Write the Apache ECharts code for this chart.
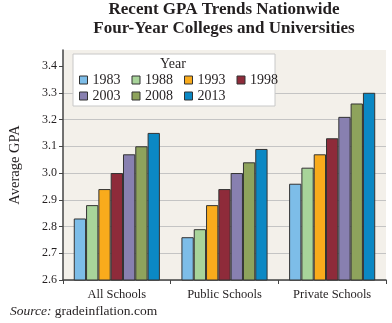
<!DOCTYPE html>
<html><head><meta charset="utf-8">
<script src="https://cdn.jsdelivr.net/npm/echarts@6/dist/echarts.min.js"></script>
<style>html,body{margin:0;padding:0;background:#fff}#c{width:392px;height:323px}</style>
</head><body><div id="c"></div>
<script>
const categories = ['All Schools', 'Public Schools', 'Private Schools'];
const years = ['1983', '1988', '1993', '1998', '2003', '2008', '2013'];
const gpa1983 = [2.83, 2.76, 2.96];
const gpa1988 = [2.88, 2.79, 3.02];
const gpa1993 = [2.94, 2.88, 3.07];
const gpa1998 = [3.00, 2.94, 3.13];
const gpa2003 = [3.07, 3.00, 3.21];
const gpa2008 = [3.10, 3.04, 3.26];
const gpa2013 = [3.15, 3.09, 3.30];
const yTicks = [2.6, 2.7, 2.8, 2.9, 3.0, 3.1, 3.2, 3.3, 3.4];
const colors = ['#7dbde8', '#a8d49a', '#f9ab1c', '#8e2b3a', '#8880b0', '#8ea35c', '#0b88c4'];
const seriesData = [gpa1983, gpa1988, gpa1993, gpa1998, gpa2003, gpa2008, gpa2013];

const serif = '"Liberation Serif", "DejaVu Serif", serif';
const txt = '#231f20';
const chart = echarts.init(document.getElementById('c'));
const legendText = { fontFamily: serif, fontSize: 14, color: txt, lineHeight: 14 };
chart.setOption({
  animation: false,
  textStyle: { fontFamily: serif },
  title: {
    text: 'Recent GPA Trends Nationwide\nFour-Year Colleges and Universities',
    left: 224, textAlign: 'center', top: 0, padding: 0,
    textStyle: { fontFamily: serif, fontSize: 17, fontWeight: 'bold', color: txt, lineHeight: 19 }
  },
  grid: { left: 62, right: 6, top: 50, bottom: 43, show: true, backgroundColor: '#f3f0ea', borderWidth: 0 },
  legend: [
    { data: years.slice(0, 4), left: 79, top: 73, padding: 0, itemGap: 11, itemWidth: 8, itemHeight: 8,
      icon: 'rect', textStyle: legendText, z: 10, itemStyle: { borderColor: '#333', borderWidth: 1 } },
    { data: years.slice(4), left: 79, top: 89, padding: 0, itemGap: 11, itemWidth: 8, itemHeight: 8,
      icon: 'rect', textStyle: legendText, z: 10, itemStyle: { borderColor: '#333', borderWidth: 1 } }
  ],
  graphic: [
    { type: 'rect', shape: { x: 73, y: 54, width: 202, height: 52 }, z: 5,
      style: { fill: '#fff', stroke: '#c8c8c8', lineWidth: 1 } },
    { type: 'text', x: 173, y: 64, z: 6,
      style: { text: 'Year', fontFamily: serif, fontSize: 14, fill: txt, align: 'center', verticalAlign: 'middle' } },
    { type: 'text', x: 10, y: 311, z: 6,
      style: { text: '{i|Source:} gradeinflation.com', fontFamily: serif, fontSize: 13.5, fill: txt, verticalAlign: 'middle',
        rich: { i: { fontStyle: 'italic', fontFamily: serif, fontSize: 13.5, fill: txt } } } }
  ],
  xAxis: {
    type: 'category', data: categories,
    axisLine: { lineStyle: { color: '#444', width: 1.5 } },
    axisTick: { show: true, length: 4, lineStyle: { color: '#444' } },
    axisLabel: { fontFamily: serif, fontSize: 12.5, color: txt, margin: 8 }
  },
  yAxis: {
    type: 'value', min: 2.6, max: 3.46, interval: 0.1,
    name: 'Average GPA', nameLocation: 'middle', nameGap: 40, nameRotate: 90,
    nameTextStyle: { fontFamily: serif, fontSize: 14.5, color: txt },
    axisLine: { show: true, lineStyle: { color: '#444', width: 1.5 } },
    axisTick: { show: true, length: 4, lineStyle: { color: '#444' }, customValues: yTicks },
    axisLabel: { fontFamily: serif, fontSize: 12, color: txt, margin: 6, customValues: yTicks,
      formatter: v => v.toFixed(1) },
    splitLine: { show: true, showMaxLine: false, lineStyle: { color: '#c4c4c4', width: 1 } }
  },
  series: seriesData.map((d, i) => ({
    name: years[i], type: 'bar', data: d,
    barGap: '0%', barCategoryGap: '20%',
    itemStyle: { color: colors[i], borderColor: '#333', borderWidth: 1 }
  }))
});
</script></body></html>
